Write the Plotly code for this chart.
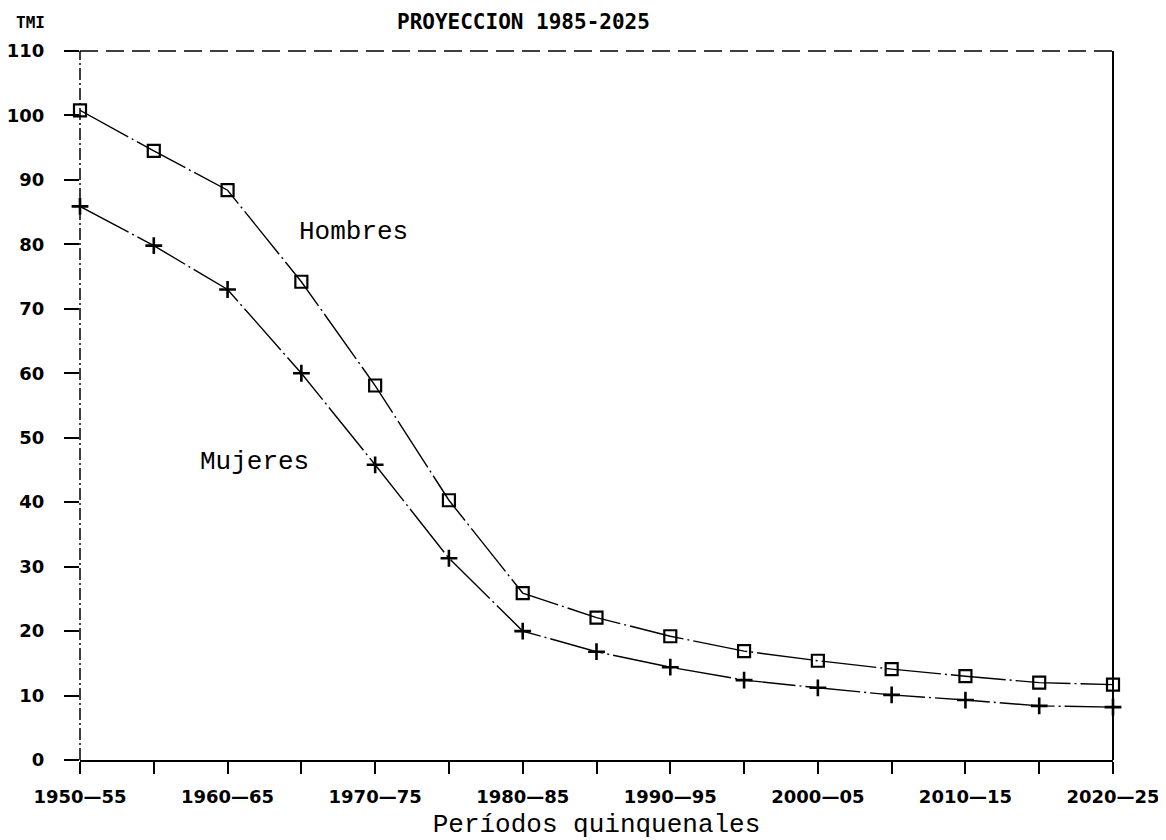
import plotly.graph_objects as go

periodos = ["1950-55", "1955-60", "1960-65", "1965-70", "1970-75", "1975-80",
            "1980-85", "1985-90", "1990-95", "1995-00", "2000-05", "2005-10",
            "2010-15", "2015-20", "2020-25"]
hombres = [100.8, 94.5, 88.4, 74.2, 58.1, 40.3, 25.9, 22.1, 19.2, 16.9,
           15.4, 14.1, 13.0, 12.0, 11.7]
mujeres = [85.9, 79.8, 73.0, 60.0, 45.8, 31.3, 20.0, 16.8, 14.4, 12.4,
           11.2, 10.1, 9.3, 8.4, 8.2]
tick_text = ["1950\u201455", "", "1960\u201465", "", "1970\u201475", "",
             "1980\u201485", "", "1990\u201495", "", "2000\u201405", "",
             "2010\u201415", "", "2020\u201425"]
y_ticks = list(range(0, 111, 10))

line_style = dict(color="black", width=1.4, dash="55px,4px,2px,4px")

fig = go.Figure()
fig.add_trace(go.Scatter(
    x=periodos, y=hombres, mode="lines+markers", name="Hombres",
    line=line_style, cliponaxis=False,
    marker=dict(symbol="square-open", size=12, color="black",
                line=dict(width=2.2, color="black")),
))
fig.add_trace(go.Scatter(
    x=periodos, y=mujeres, mode="lines+markers", name="Mujeres",
    line=line_style, cliponaxis=False,
    marker=dict(symbol="cross-thin-open", size=12, color="black",
                line=dict(width=2.6, color="black")),
))

# page body has an 8px margin: figure is 1158x832 placed at (8, 8)
fig.update_layout(
    width=1158, height=832,
    margin=dict(l=72, r=53, t=43, b=80, autoexpand=False),
    paper_bgcolor="white", plot_bgcolor="white",
    showlegend=False,
    font=dict(family="DejaVu Sans", color="black"),
)

fig.update_xaxes(
    type="category", range=[0, 14], automargin=False,
    tickmode="array", tickvals=periodos, ticktext=tick_text,
    ticks="outside", ticklen=12, tickwidth=1.5, tickcolor="black",
    tickfont=dict(family="DejaVu Sans", size=18, color="black", weight="bold"),
    ticklabelstandoff=8,
    showline=True, linecolor="black", linewidth=1.6,
    showgrid=False, zeroline=False,
    title=dict(text="Períodos quinquenales",
               font=dict(family="Liberation Mono", size=26, color="black"),
               standoff=24),
)
fig.update_yaxes(
    range=[0, 110], tickmode="array", tickvals=y_ticks, automargin=False,
    ticks="outside", ticklen=15, tickwidth=1.5, tickcolor="black",
    tickfont=dict(family="DejaVu Sans", size=18, color="black", weight="bold"),
    ticklabelstandoff=16,
    showline=False, showgrid=False, zeroline=False,
)

# frame
fig.add_shape(type="line", xref="paper", yref="paper", x0=0, x1=0, y0=0, y1=1,
              line=dict(color="black", width=1.5, dash="12px,3px,2px,3px"))
fig.add_shape(type="line", xref="paper", yref="paper", x0=0, x1=1, y0=1, y1=1,
              line=dict(color="black", width=1.5, dash="18px,8px"))
fig.add_shape(type="line", xref="paper", yref="paper", x0=1, x1=1, y0=0, y1=1,
              line=dict(color="black", width=2))

fig.add_annotation(x=3.7, y=81.9, xref="x", yref="y", text="Hombres",
                   showarrow=False,
                   font=dict(family="Liberation Mono", size=26, color="black"))
fig.add_annotation(x=2.36, y=46.2, xref="x", yref="y", text="Mujeres",
                   showarrow=False,
                   font=dict(family="Liberation Mono", size=26, color="black"))

fig.add_annotation(x=(523 - 80) / 1033, y=1 + (51 - 22) / 709, xref="paper", yref="paper",
                   text="<b>PROYECCION 1985-2025</b>", showarrow=False,
                   xanchor="center", yanchor="middle",
                   font=dict(family="DejaVu Sans Mono", size=21, color="black"))
fig.add_annotation(x=(30 - 80) / 1033, y=1 + (51 - 22) / 709, xref="paper", yref="paper",
                   text="<b>TMI</b>", showarrow=False,
                   xanchor="center", yanchor="middle",
                   font=dict(family="DejaVu Sans Mono", size=16, color="black"))

fig.write_html("out.html")
